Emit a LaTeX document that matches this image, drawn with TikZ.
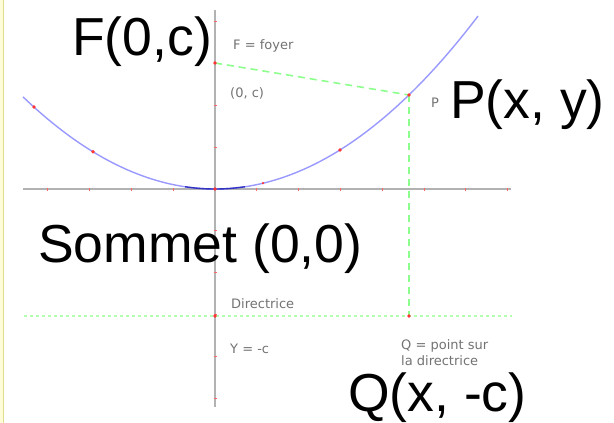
\documentclass[tikz,border=0pt]{standalone}
\usepackage{fontspec}
\setmainfont{Liberation Sans}
\newfontfamily\smallfont{DejaVu Sans}
\begin{document}
\begin{tikzpicture}[x=1pt,y=-1pt,
  biglabel/.style={inner sep=0pt,anchor=base west,font=\fontsize{53.5}{57}\selectfont,text=black},
  smalllabel/.style={inner sep=0pt,anchor=base west,font=\smallfont\fontsize{13}{15}\selectfont,text=black!55},
  axisline/.style={line width=2pt,draw=black!30},
  curve/.style={line width=1.4pt,draw=blue!40},
  greendash/.style={line width=1.6pt,draw=green!45,dash pattern=on 7pt off 5pt},
  greendot/.style={line width=2.5pt,draw=green!30,dash pattern=on 3pt off 3pt},
  reddot/.style={circle,fill=red!80,inner sep=0pt,minimum size=3.8pt},
  tickmark/.style={line width=0.8pt,draw=red!60}]
\useasboundingbox (0,0) rectangle (614,423);
\fill[white] (0,0) rectangle (614,423);
% left border
\fill[yellow!15] (0,0) rectangle (2.5,423);
\draw[line width=0.6pt,draw=black!25!yellow!50] (2.8,0) -- (2.8,423);
% axes
\coordinate (xl) at (23,189);
\coordinate (xr) at (511,189);
\coordinate (yt) at (215,10);
\coordinate (yb) at (215,407);
\draw[axisline] (xl) -- (xr);
\draw[axisline] (yt) -- (yb);
% ticks
\foreach \k in {-4,-3,-2,-1,1,2,3,4,5,6,7}
  \draw[tickmark] ({215+41.8*\k},187.5) -- ({215+41.8*\k},190.5);
\foreach \k in {-4,-3,-2,-1,1,2,3,4,5}
  \draw[tickmark] (213.5,{189+41.8*\k}) -- (216.5,{189+41.8*\k});
% directrix
\coordinate (dl) at (24,316);
\coordinate (dr) at (512,316);
\draw[greendot] (dl) -- (dr);
% parabola
\draw[curve] plot[domain=-192:263,samples=120,smooth] ({215+\x},{189-(\x/20)*(\x/20)});
\draw[line width=1.4pt,draw=blue!70!black!80] plot[domain=-30:30,samples=20,smooth] ({215+\x},{189-(\x/20)*(\x/20)});
% points
\coordinate (F) at (215,63);
\coordinate (P) at (409,95);
\coordinate (Q) at (409,316);
\coordinate (D) at (215,316);
\coordinate (O) at (215,189);
\draw[greendash] (F) -- (P);
\draw[greendash] (P) -- (Q);
\foreach \n in {F,P,Q,D,O} \node[reddot] at (\n) {};
\node[reddot] (p1) at (34,{189-(181/20)*(181/20)}) {};
\node[reddot] (p2) at (93,{189-(122/20)*(122/20)}) {};
\node[reddot] (p3) at (340,{189-(125/20)*(125/20)}) {};
\node[reddot,minimum size=2.5pt] (p4) at (263,{189-(48/20)*(48/20)}) {};
% small labels
\node[smalllabel] (lf) at (233,49) {F = foyer};
\node[smalllabel] (lf2) at (230,97) {(0, c)};
\node[smalllabel] (lp) at (431,107) {P};
\node[smalllabel] (ld) at (231,308) {Directrice};
\node[smalllabel] (ly) at (230,353) {Y = -c};
\node[smalllabel] (lq1) at (401,349) {Q = point sur};
\node[smalllabel] (lq2) at (401,365) {la directrice};
% big labels
\node[biglabel] (bF) at (72,55) {F(0,c)};
\node[biglabel] (bP) at (450,118) {P(x, y)};
\node[biglabel] (bS) at (38,262) {Sommet (0,0)};
\node[biglabel] (bQ) at (348,411.5) {Q(x, -c)};
\end{tikzpicture}
\end{document}
